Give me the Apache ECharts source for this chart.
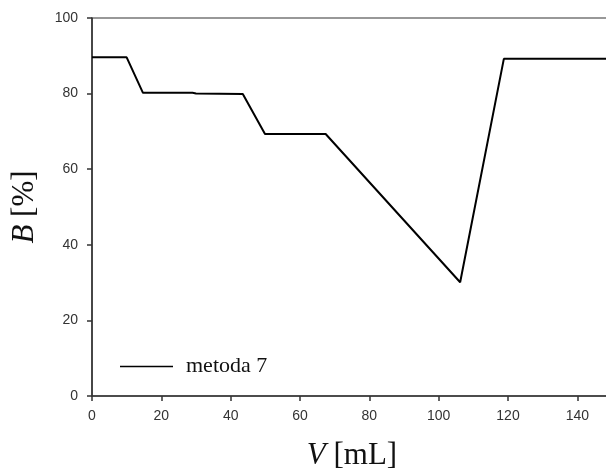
<!DOCTYPE html>
<html>
<head>
<meta charset="utf-8">
<script src="https://cdn.jsdelivr.net/npm/echarts@6/dist/echarts.min.js"></script>
<style>html,body{margin:0;padding:0;background:#fff;}#c{width:606px;height:470px;}</style>
</head>
<body>
<div id="c"></div>
<script>
var seriesName = 'metoda 7';
var volume = [0, 10, 14.7, 29, 30, 43.5, 49.9, 67.4, 106.2, 118.8, 150];
var percentB = [89.6, 89.6, 80.2, 80.2, 80.0, 79.9, 69.3, 69.3, 30.1, 89.2, 89.2];

var chart = echarts.init(document.getElementById('c'));
var data = volume.map(function (v, i) { return [v, percentB[i]]; });
chart.setOption({
  animation: false,
  backgroundColor: '#fff',
  grid: { left: 92, top: 18, right: -6, bottom: 74, containLabel: false, outerBoundsMode: 'none',
    show: true, borderColor: '#333', borderWidth: 1.2 },
  legend: {
    left: 120, top: 355.5, padding: 0,
    icon: 'rect', itemWidth: 53, itemHeight: 1.5, itemGap: 10,
    textStyle: { fontFamily: 'Liberation Serif', fontSize: 22, color: '#111', padding: [0, 0, 0, 8] },
    data: [seriesName]
  },
  xAxis: {
    type: 'value', min: 0, max: 150, interval: 20,
    name: '{i|V} [mL]', nameLocation: 'middle', nameGap: 44,
    nameTextStyle: { fontFamily: 'Liberation Serif', fontSize: 31, color: '#111',
      rich: { i: { fontFamily: 'Liberation Serif', fontStyle: 'italic', fontSize: 31, color: '#111' } } },
    axisLine: { show: true, lineStyle: { color: '#333', width: 1.5 } },
    axisTick: { show: true, length: 5, lineStyle: { color: '#333', width: 1.5 } },
    axisLabel: { showMaxLabel: false, margin: 13, fontFamily: 'Liberation Sans', fontSize: 14, color: '#333' },
    splitLine: { show: false }
  },
  yAxis: {
    type: 'value', min: 0, max: 100, interval: 20,
    name: '{i|B} [%]', nameLocation: 'middle', nameGap: 52, nameRotate: 90,
    nameTextStyle: { fontFamily: 'Liberation Serif', fontSize: 31, color: '#111',
      rich: { i: { fontFamily: 'Liberation Serif', fontStyle: 'italic', fontSize: 31, color: '#111' } } },
    axisLine: { show: true, lineStyle: { color: '#333', width: 1.5 } },
    axisTick: { show: true, length: 5, lineStyle: { color: '#333', width: 1.5 } },
    axisLabel: { margin: 14, fontFamily: 'Liberation Sans', fontSize: 14, color: '#333' },
    splitLine: { show: false }
  },
  series: [{
    name: seriesName, type: 'line', data: data,
    showSymbol: false, symbol: 'none',
    lineStyle: { color: '#000', width: 2 },
    itemStyle: { color: '#000' }
  }]
});
</script>
</body>
</html>
